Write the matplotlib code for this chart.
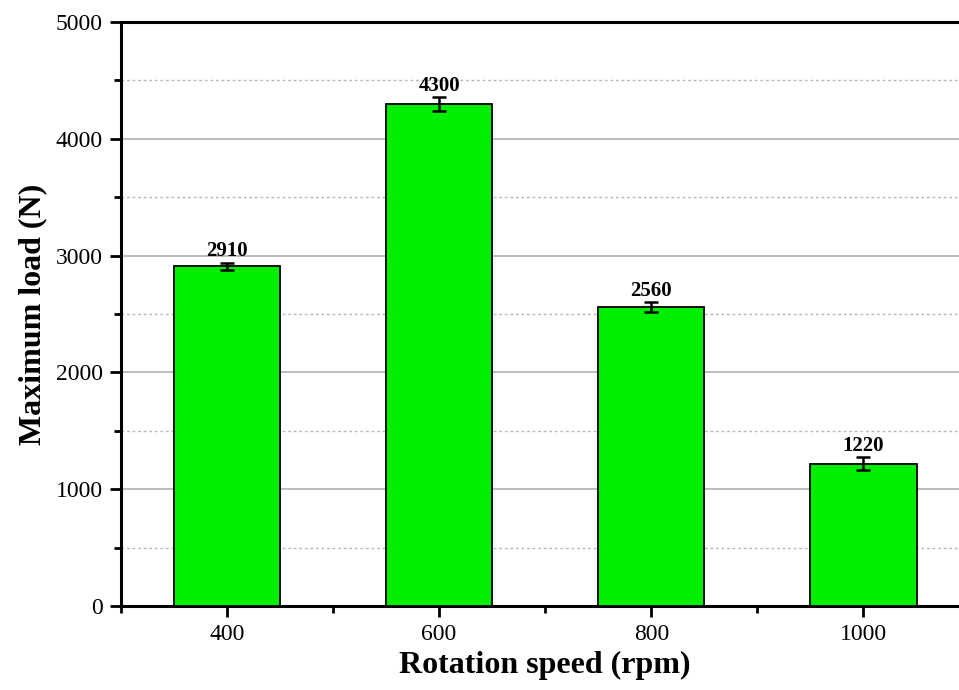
import matplotlib
matplotlib.use("Agg")
import matplotlib.pyplot as plt
from matplotlib.ticker import MultipleLocator

speeds = [400, 600, 800, 1000]
loads = [2910, 4300, 2560, 1220]
errors = [30, 60, 40, 55]
labels = ["2910", "4300", "2560", "1220"]

plt.rcParams["font.family"] = ["Liberation Serif", "DejaVu Serif"]

fig = plt.figure(figsize=(9.59, 6.9), dpi=100)
ax = fig.add_axes([0.126, 0.1217, 0.885, 0.8463])

ax.bar(
    speeds,
    loads,
    width=100,
    color="#00ee00",
    edgecolor="black",
    linewidth=1.3,
    zorder=3,
)
ax.errorbar(
    speeds,
    loads,
    yerr=errors,
    fmt="none",
    ecolor="black",
    elinewidth=1.8,
    capsize=5,
    capthick=1.8,
    zorder=4,
)

for x, y, e, t in zip(speeds, loads, errors, labels):
    ax.text(
        x,
        y + e + 10,
        t,
        ha="center",
        va="bottom",
        fontsize=15,
        fontweight="bold",
    )

ax.set_xlim(300, 1100)
ax.set_ylim(0, 5000)
ax.xaxis.set_major_locator(MultipleLocator(200))
ax.xaxis.set_minor_locator(MultipleLocator(100))
ax.yaxis.set_major_locator(MultipleLocator(1000))
ax.yaxis.set_minor_locator(MultipleLocator(500))

ax.grid(which="major", axis="y", color="#b0b0b0", linewidth=1.2, zorder=0)
ax.grid(which="minor", axis="y", color="#b8b8b8", linewidth=1.0,
        linestyle=(0, (2, 2)), zorder=0)

for side in ["left", "bottom", "top"]:
    ax.spines[side].set_linewidth(2.2)
ax.spines["right"].set_visible(False)

ax.tick_params(which="major", direction="out", length=8, width=2,
               labelsize=17, pad=5)
ax.tick_params(which="minor", direction="out", length=5, width=2)
ax.tick_params(axis="x", which="minor", top=False)

ax.set_xlabel("Rotation speed (rpm)", fontsize=23, fontweight="bold", labelpad=4)
ax.set_ylabel("Maximum load (N)", fontsize=23, fontweight="bold", labelpad=6)

fig.savefig("out.png", dpi=100)
